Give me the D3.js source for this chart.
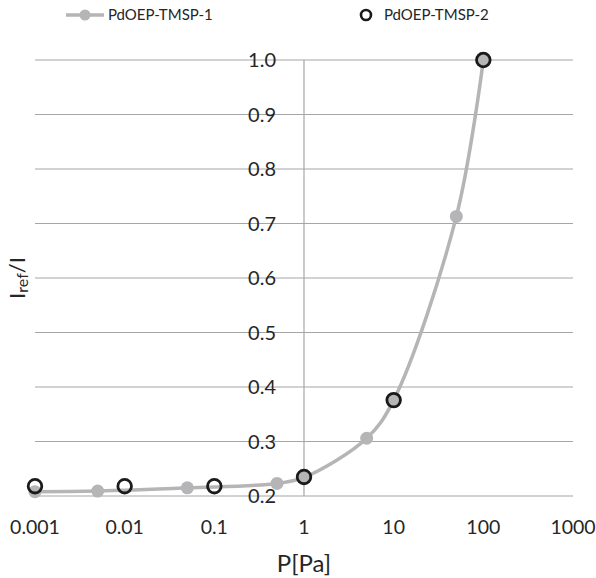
<!DOCTYPE html>
<html>
<head>
<meta charset="utf-8">
<script src="https://cdn.jsdelivr.net/npm/d3@7"></script>
<style>
  body { margin: 0; background: #fff; }
  text { font-family: Lato, "Open Sans", sans-serif; fill: #262626; }
</style>
</head>
<body>
<svg width="596" height="578"></svg>
<script>
// series 1 (filled grey markers, smoothed line)
var p1 = [0.001, 0.005, 0.05, 0.5, 1, 5, 10, 50, 100];
var v1 = [0.208, 0.209, 0.215, 0.223, 0.234, 0.306, 0.376, 0.713, 1.0];
// series 2 (open black markers)
var p2 = [0.001, 0.01, 0.1, 1, 10, 100];
var v2 = [0.218, 0.218, 0.218, 0.235, 0.376, 1.0];
var xTicks = [0.001, 0.01, 0.1, 1, 10, 100, 1000];
var yTicks = [0.2, 0.3, 0.4, 0.5, 0.6, 0.7, 0.8, 0.9, 1.0];

var svg = d3.select("svg");
var x = d3.scaleLog().domain([0.001, 1000]).range([35, 573]);
var y = d3.scaleLinear().domain([0.2, 1.0]).range([496, 60]);

// horizontal gridlines
svg.selectAll(".grid")
  .data(yTicks)
  .enter().append("line")
    .attr("x1", x(0.001)).attr("x2", x(1000))
    .attr("y1", function(d) { return y(d); })
    .attr("y2", function(d) { return y(d); })
    .attr("stroke", "#a6a6a6").attr("stroke-width", 1.2);

// vertical axis crossing at P = 1
svg.append("line")
    .attr("x1", x(1)).attr("x2", x(1))
    .attr("y1", y(1.0)).attr("y2", y(0.2))
    .attr("stroke", "#a6a6a6").attr("stroke-width", 1.2);

// y tick labels (sit on the gridlines)
svg.selectAll(".ylab")
  .data(yTicks)
  .enter().append("text")
    .attr("x", x(1) - 28)
    .attr("y", function(d) { return y(d); })
    .attr("dy", "0.36em")
    .attr("text-anchor", "end")
    .style("font-size", "20px")
    .text(function(d) { return d.toFixed(1); });

// x tick labels
svg.selectAll(".xlab")
  .data(xTicks)
  .enter().append("text")
    .attr("x", function(d) { return x(d); })
    .attr("y", 534)
    .attr("text-anchor", "middle")
    .style("font-size", "19.5px")
    .text(function(d) { return String(d); });

svg.append("text")
    .attr("x", x(1)).attr("y", 572)
    .attr("text-anchor", "middle")
    .style("font-size", "24px")
    .text("P[Pa]");

var yt = svg.append("text")
    .attr("transform", "translate(25,278) rotate(-90)")
    .attr("text-anchor", "middle")
    .style("font-size", "22px");
yt.append("tspan").text("I");
yt.append("tspan").attr("dy", 3).style("font-size", "16px").text("ref");
yt.append("tspan").attr("dy", -3).text("/I");

// series 1
var d1 = p1.map(function(p, i) { return [p, v1[i]]; });
var line = d3.line()
    .x(function(d) { return x(d[0]); })
    .y(function(d) { return y(d[1]); })
    .curve(d3.curveCatmullRom.alpha(0.5));

svg.append("path")
    .datum(d1)
    .attr("d", line)
    .attr("fill", "none")
    .attr("stroke", "#b5b5b7")
    .attr("stroke-width", 3.5);

svg.selectAll(".m1")
  .data(d1)
  .enter().append("circle")
    .attr("cx", function(d) { return x(d[0]); })
    .attr("cy", function(d) { return y(d[1]); })
    .attr("r", 6.5)
    .attr("fill", "#b5b5b7");

// series 2
var d2 = p2.map(function(p, i) { return [p, v2[i]]; });
svg.selectAll(".m2")
  .data(d2)
  .enter().append("circle")
    .attr("cx", function(d) { return x(d[0]); })
    .attr("cy", function(d) { return y(d[1]); })
    .attr("r", 6.8)
    .attr("fill", "none")
    .attr("stroke", "#1a1a1a")
    .attr("stroke-width", 2.8);

// legend
svg.append("line")
    .attr("x1", 66).attr("x2", 104).attr("y1", 15).attr("y2", 15)
    .attr("stroke", "#b5b5b7").attr("stroke-width", 3.5);
svg.append("circle")
    .attr("cx", 85).attr("cy", 15).attr("r", 5.5).attr("fill", "#b5b5b7");
svg.append("text")
    .attr("x", 108).attr("y", 15).attr("dy", "0.35em")
    .style("font-size", "15px").text("PdOEP-TMSP-1");
svg.append("circle")
    .attr("cx", 366).attr("cy", 15).attr("r", 5)
    .attr("fill", "none").attr("stroke", "#1a1a1a").attr("stroke-width", 2.6);
svg.append("text")
    .attr("x", 384).attr("y", 15).attr("dy", "0.35em")
    .style("font-size", "15px").text("PdOEP-TMSP-2");
</script>
</body>
</html>
